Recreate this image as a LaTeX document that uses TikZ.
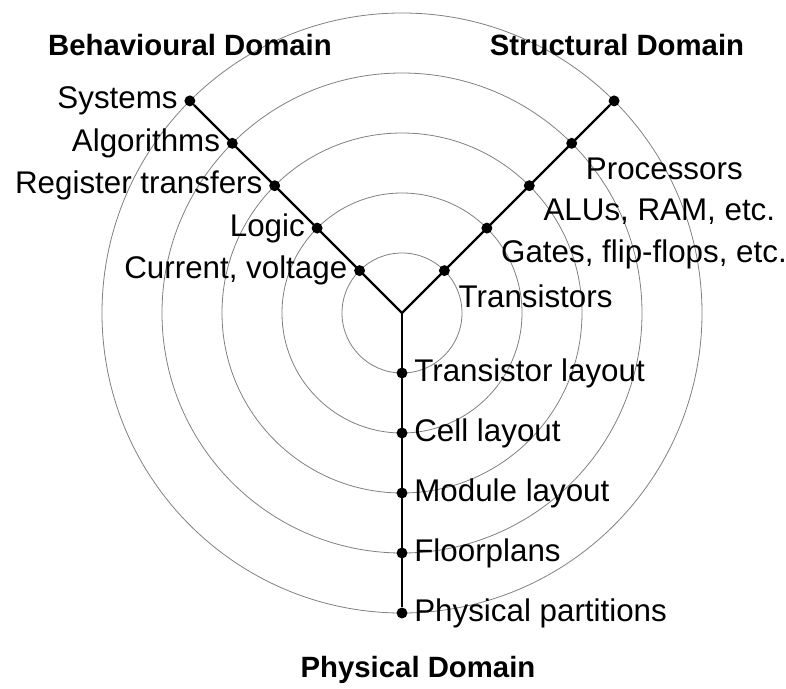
\documentclass[tikz,border=0pt]{standalone}
\usepackage{fontspec}
\setmainfont{Liberation Sans}
\usetikzlibrary{positioning}

\tikzset{
  ring/.style={draw=black!50,line width=0.6pt},
  arm/.style={line width=1.8pt},
  dot/.style={circle,fill=black,inner sep=0pt,minimum size=8.2pt},
  lbl/.style={inner sep=0.75pt,font=\fontsize{23.5}{27}\selectfont},
  domainlbl/.style={inner sep=0.75pt,font=\fontsize{22}{26}\selectfont\bfseries}
}

\begin{document}
\begin{tikzpicture}[x=0.75pt,y=0.75pt,yscale=-1]
    \useasboundingbox (0,0) rectangle (786,689);
    \coordinate (c) at (402,313);

    %Shape: Circles
    \draw[ring] (c) circle [radius=60];
    \draw[ring] (c) circle [radius=120];
    \draw[ring] (c) circle [radius=180];
    \draw[ring] (c) circle [radius=240];
    \draw[ring] (c) circle [radius=300];

    % Behavioural arm
    \node[dot] (b1) at (359.6,270.6) {};
    \node[dot] (b2) at (317.1,228.1) {};
    \node[dot] (b3) at (274.7,185.7) {};
    \node[dot] (b4) at (232.3,143.3) {};
    \node[dot] (b5) at (189.9,100.9) {};
    % Structural arm
    \node[dot] (s1) at (444.4,270.6) {};
    \node[dot] (s2) at (486.9,228.1) {};
    \node[dot] (s3) at (529.3,185.7) {};
    \node[dot] (s4) at (571.7,143.3) {};
    \node[dot] (s5) at (614.1,100.9) {};
    % Physical arm
    \node[dot] (p1) at (402,373) {};
    \node[dot] (p2) at (402,433) {};
    \node[dot] (p3) at (402,493) {};
    \node[dot] (p4) at (402,553) {};
    \node[dot] (p5) at (402,613) {};

    %Straight Lines
    \draw[arm] (c) -- (b5);
    \draw[arm] (c) -- (s5);
    \draw[arm] (c) -- (p5);

    % Text Node
    \node[lbl,left=4pt of b1] (b1l) {Current, voltage};
    \node[lbl,left=4pt of b2] (b2l) {Logic};
    \node[lbl,left=4pt of b3] (b3l) {Register transfers};
    \node[lbl,left=4pt of b4] (b4l) {Algorithms};
    \node[lbl,left=4pt of b5] (b5l) {Systems};
    % Text Node
    \node[lbl,anchor=west] (s1l) at ([shift={(13,26)}]s1.center) {Transistors};
    \node[lbl,anchor=west] (s2l) at ([shift={(13,26)}]s2.center) {Gates, flip-flops, etc.};
    \node[lbl,anchor=west] (s3l) at ([shift={(13,26)}]s3.center) {ALUs, RAM, etc.};
    \node[lbl,anchor=west] (s4l) at ([shift={(13,26)}]s4.center) {Processors};
    % Text Node
    \node[lbl,right=4pt of p1] (p1l) {Transistor layout};
    \node[lbl,right=4pt of p2] (p2l) {Cell layout};
    \node[lbl,right=4pt of p3] (p3l) {Module layout};
    \node[lbl,right=4pt of p4] (p4l) {Floorplans};
    \node[lbl,right=4pt of p5] (p5l) {Physical partitions};

    % Text Node
    \node[domainlbl] (beh) at (190,45) {Behavioural Domain};
    \node[domainlbl] (str) at (617,45) {Structural Domain};
    \node[domainlbl] (phy) at (418,670) {Physical Domain};
\end{tikzpicture}
\end{document}
